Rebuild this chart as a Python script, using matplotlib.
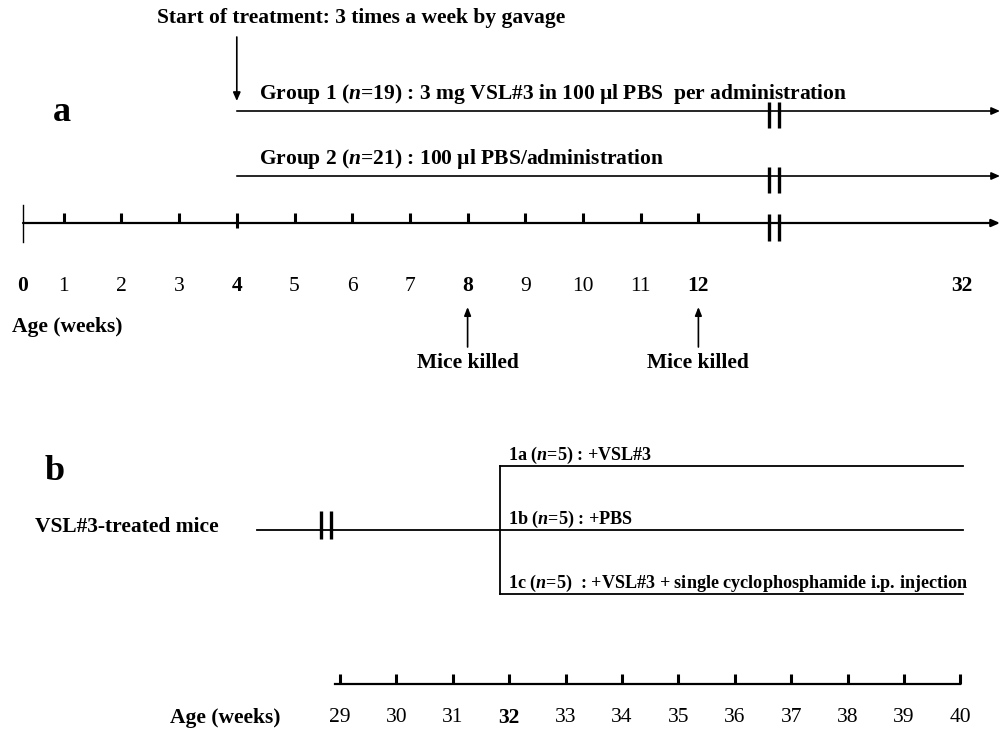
import numpy as np
import matplotlib.pyplot as plt

plt.rcParams['font.family'] = 'Liberation Serif'
plt.rcParams['font.weight'] = 'bold'
plt.rcParams['mathtext.fontset'] = 'custom'
plt.rcParams['mathtext.rm'] = 'Liberation Serif:bold'
plt.rcParams['mathtext.it'] = 'Liberation Serif:italic:bold'

# panel a: weeks 0-12 then a break up to week 32
weeks_a = [0, 1, 2, 3, 4, 5, 6, 7, 8, 9, 10, 11, 12]
bold_weeks_a = [0, 4, 8, 12]
end_week_a = 32
start_week = 4
killed_weeks = [8, 12]
title_a = 'Start of treatment: 3 times a week by gavage'
group_labels = ['Group 1 ($n$=19) : 3 mg VSL#3 in 100 µl PBS  per administration',
                'Group 2 ($n$=21) : 100 µl PBS/administration']

# panel b: weeks 29-40, split at week 32
weeks_b = [29, 30, 31, 32, 33, 34, 35, 36, 37, 38, 39, 40]
bold_weeks_b = [32]
split_week = 32
subgroup_labels = ['1a ($n$=5) : +VSL#3',
                   '1b ($n$=5) : +PBS',
                   '1c ($n$=5)  : +VSL#3 + single cyclophosphamide i.p. injection']


def xa(w):
    # week -> horizontal position, panel a
    return 6 + 57.7 * np.asarray(w, dtype=float)


def xb(w):
    return 340 + 56.4 * (np.asarray(w, dtype=float) - 29)


fig = plt.figure(figsize=(10, 7.29), dpi=100)
ax = fig.add_axes([0, 0, 1, 1])
ax.set_xlim(0, 1000)
ax.set_ylim(729, 0)
ax.axis('off')

k = 'black'
fs = 15.5
axis_start = 23
x_end = 1000
x_break = 774
x_32 = 962

def brk(ax, x, y, up, down):
    for dx in (-5, 5):
        ax.plot([x + dx, x + dx], [y - up, y + down], color=k, lw=2.4, solid_capstyle='butt')

def arrow_line(ax, x0, x1, y, lw=1.2):
    ax.annotate('', xy=(x1, y), xytext=(x0, y),
                arrowprops=dict(arrowstyle='-|>,head_length=0.5,head_width=0.22',
                                color=k, lw=lw, shrinkA=0, shrinkB=0))

# ---- panel a ----
ax.text(157, 18, title_a, fontsize=fs, ha='left', va='center')
ax.annotate('', xy=(xa(start_week), 101), xytext=(xa(start_week), 37),
            arrowprops=dict(arrowstyle='-|>,head_length=0.5,head_width=0.22',
                            color=k, lw=1.2, shrinkA=0, shrinkB=0))
ax.text(62, 112, 'a', fontsize=26, ha='center', va='center')

group_y = [111, 176]
for y, lab in zip(group_y, group_labels):
    arrow_line(ax, xa(start_week), x_end, y)
    brk(ax, x_break, y, 9, 17)
    ax.text(xa(start_week) + 22, y - 17, lab, fontsize=fs, ha='left', va='center')

y_ax = 223
arrow_line(ax, axis_start, x_end, y_ax, lw=1.6)
ax.plot([axis_start, axis_start], [y_ax - 18, y_ax + 19], color=k, lw=1.0)
brk(ax, x_break, y_ax, 9, 18)
for w in weeks_a[1:]:
    down = 5 if w == start_week else 0
    ax.plot([xa(w), xa(w)], [y_ax - 10, y_ax + down], color=k, lw=2.2, solid_capstyle='butt')

for w in weeks_a:
    x = axis_start if w == 0 else xa(w)
    fw = 'bold' if w in bold_weeks_a else 'normal'
    ax.text(x, 286, str(w), fontsize=fs, fontweight=fw, ha='center', va='center')
ax.text(x_32, 286, str(end_week_a), fontsize=fs, ha='center', va='center')
ax.text(12, 327, 'Age (weeks)', fontsize=fs, ha='left', va='center')

for w in killed_weeks:
    ax.annotate('', xy=(xa(w), 307), xytext=(xa(w), 347),
                arrowprops=dict(arrowstyle='-|>,head_length=0.5,head_width=0.2',
                                color=k, lw=1.2, shrinkA=0, shrinkB=0))
    ax.text(xa(w), 363, 'Mice killed', fontsize=fs, ha='center', va='center')

# ---- panel b ----
ax.text(55, 471, 'b', fontsize=26, ha='center', va='center')
ax.text(35, 527, 'VSL#3-treated mice', fontsize=fs, ha='left', va='center')

y_mid = 530
x_split = xb(split_week) - 9
ax.plot([257, x_split], [y_mid, y_mid], color=k, lw=1.3)
brk(ax, 326, y_mid, 19, 9)
sub_y = [466, 530, 594]
ax.plot([x_split, x_split], [sub_y[0], sub_y[-1]], color=k, lw=1.3)
for y, lab in zip(sub_y, subgroup_labels):
    ax.plot([x_split, xb(weeks_b[-1]) + 3], [y, y], color=k, lw=1.3)
    ax.text(x_split + 8, y - 11, lab, fontsize=13.1, ha='left', va='center')

y_axb = 684
ax.plot([xb(weeks_b[0]) - 5, xb(weeks_b[-1])], [y_axb, y_axb], color=k, lw=1.6)
for w in weeks_b:
    ax.plot([xb(w), xb(w)], [y_axb - 10, y_axb], color=k, lw=2.2, solid_capstyle='butt')
    fw = 'bold' if w in bold_weeks_b else 'normal'
    ax.text(xb(w), 718, str(w), fontsize=fs, fontweight=fw, ha='center', va='center')
ax.text(170, 718, 'Age (weeks)', fontsize=fs, ha='left', va='center')

fig.savefig('out.png', dpi=100, facecolor='white')
